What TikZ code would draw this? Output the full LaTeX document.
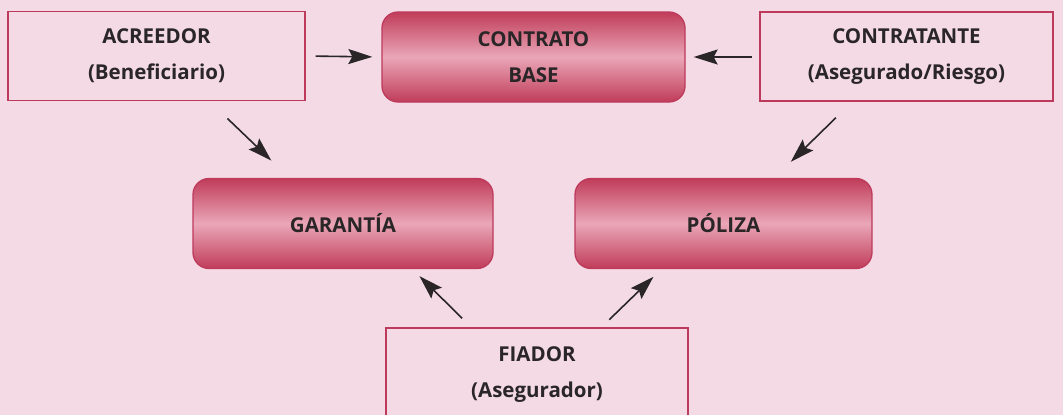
\documentclass[tikz,border=0pt]{standalone}
\usepackage{fontspec}
\setmainfont{Open Sans}
\usetikzlibrary{arrows.meta}
\definecolor{bgpink}{HTML}{F4DAE5}
\definecolor{bordred}{HTML}{BE3A5C}
\definecolor{shadedark}{HTML}{C03C5A}
\definecolor{shadelight}{HTML}{EAA6B7}
\definecolor{txt}{HTML}{2A2628}
\tikzset{
  x=1pt, y=-1pt,
  plainbox/.style={draw=bordred, line width=1.3pt, fill=bgpink, rectangle,
    minimum width=#1, minimum height=89pt, inner sep=0pt, align=center,
    font=\fontsize{20.5}{36}\selectfont\bfseries, text=txt},
  roundbox/.style={draw=bordred, line width=1.3pt, rounded corners=16pt,
    top color=shadedark, bottom color=shadedark, middle color=shadelight,
    minimum width=#1, minimum height=90pt, inner sep=0pt, align=center,
    font=\fontsize{20.5}{36}\selectfont\bfseries, text=txt},
  arr/.style={draw=txt, line width=1.6pt, -{Stealth[length=24pt,width=15pt,inset=4pt]}}
}
\begin{document}
\begin{tikzpicture}
\fill[bgpink] (0,0) rectangle (1063,415);
\useasboundingbox (0,0) rectangle (1063,415);
\clip (0,0) rectangle (1063,415);
\node[plainbox=297pt] (acr) at (156.5,56) {ACREEDOR\\(Beneficiario)};
\node[roundbox=303pt] (cb) at (533.5,57) {CONTRATO\\BASE};
\node[plainbox=293pt] (ctt) at (906.5,56.5) {CONTRATANTE\\(Asegurado/Riesgo)};
\node[roundbox=300pt] (gar) at (343,223.5) {GARANTÍA};
\node[roundbox=297pt] (pol) at (723.5,223.5) {PÓLIZA};
\node[plainbox=302pt, minimum height=94pt] (fia) at (537,375) {FIADOR\\(Asegurador)};
\draw[arr, shorten <=10pt, shorten >=9pt] (acr.east) -- (cb.west);
\draw[arr, shorten <=7pt, shorten >=8pt] (ctt.west |- cb.east) -- (cb.east);
\draw[arr, shorten <=25pt, shorten >=25pt] ([xshift=202pt]acr.south west) -- ([xshift=97pt]gar.north west);
\draw[arr, shorten <=23pt, shorten >=23pt] ([xshift=93pt]ctt.south west) -- ([xshift=200pt]pol.north west);
\draw[arr, shorten <=13pt, shorten >=10pt] ([xshift=86pt]fia.north west) -- ([xshift=220pt]gar.south west);
\draw[arr, shorten <=11pt, shorten >=11pt] ([xshift=216pt]fia.north west) -- ([xshift=87pt]pol.south west);
\end{tikzpicture}
\end{document}
